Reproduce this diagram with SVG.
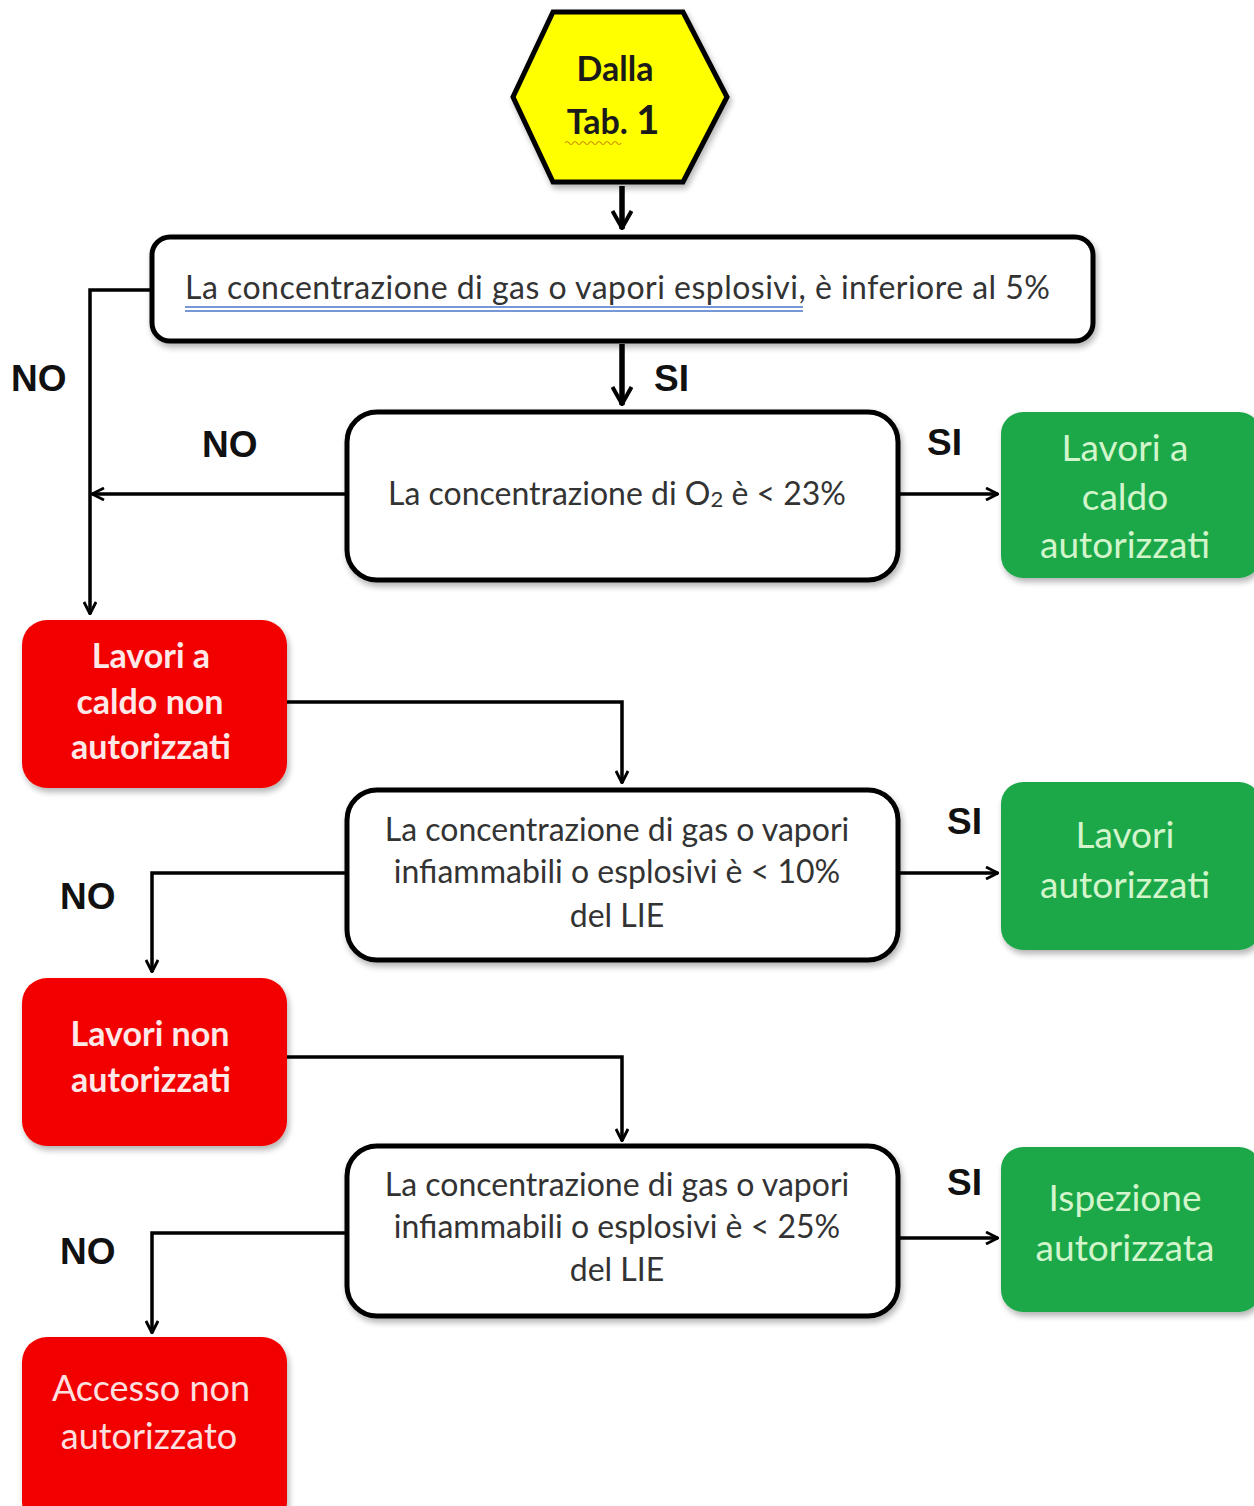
<svg xmlns="http://www.w3.org/2000/svg" width="1254" height="1506" viewBox="0 0 1254 1506">
<style>
.dec{fill:#fff;stroke:#000;stroke-width:5}
.ok{fill:#1DA84A}
.ko{fill:#F20000}
.t{font-family:Lato,"Liberation Sans",sans-serif;font-size:32px;fill:#333;text-anchor:middle}
.gt{font-family:Lato,"Liberation Sans",sans-serif;font-size:37px;fill:#D2F5CC;text-anchor:middle}
.rt{font-family:Lato,"Liberation Sans",sans-serif;font-size:34px;font-weight:bold;fill:#FFE8E8;text-anchor:middle}
.rt2{font-family:Lato,"Liberation Sans",sans-serif;font-size:36px;fill:#FFE0E0;text-anchor:middle}
.lbl{font-family:"Liberation Sans",Arial,sans-serif;font-size:37px;font-weight:bold;fill:#111}
.c{fill:none;stroke:#000;stroke-width:3.5}
.ct{fill:none;stroke:#000;stroke-width:5.5}
</style>
<defs>
<marker id="a" viewBox="0 0 14 14" refX="13" refY="7" markerWidth="14" markerHeight="14" markerUnits="userSpaceOnUse" orient="auto">
<path d="M1,1 L13,7 L1,13" fill="none" stroke="#000" stroke-width="2.8"/>
</marker>
<marker id="b" viewBox="0 0 20 22" refX="19" refY="11" markerWidth="20" markerHeight="22" markerUnits="userSpaceOnUse" orient="auto">
<path d="M1,1.5 L18,11 L1,20.5" fill="none" stroke="#000" stroke-width="4"/>
</marker>
<filter id="sh" x="-10%" y="-10%" width="125%" height="130%">
<feGaussianBlur in="SourceAlpha" stdDeviation="3"/>
<feOffset dx="2" dy="4" result="o"/>
<feComponentTransfer><feFuncA type="linear" slope="0.3"/></feComponentTransfer>
<feMerge><feMergeNode/><feMergeNode in="SourceGraphic"/></feMerge>
</filter>
</defs>

<g id="connectors">
<line class="ct" x1="622" y1="186" x2="622" y2="229" marker-end="url(#b)"/>
<line class="ct" x1="622" y1="344" x2="622" y2="405" marker-end="url(#b)"/>
<polyline class="c" points="152,290 90,290 90,614" marker-end="url(#a)"/>
<line class="c" x1="347" y1="494" x2="92" y2="494" marker-end="url(#a)"/>
<line class="c" x1="898" y1="494" x2="998" y2="494" marker-end="url(#a)"/>
<polyline class="c" points="287,702 622,702 622,783" marker-end="url(#a)"/>
<polyline class="c" points="347,873 152,873 152,972" marker-end="url(#a)"/>
<line class="c" x1="898" y1="873" x2="998" y2="873" marker-end="url(#a)"/>
<polyline class="c" points="287,1057 622,1057 622,1141" marker-end="url(#a)"/>
<polyline class="c" points="347,1233 152,1233 152,1333" marker-end="url(#a)"/>
<line class="c" x1="898" y1="1238" x2="998" y2="1238" marker-end="url(#a)"/>
<text class="lbl" x="11" y="391">NO</text>
<text class="lbl" x="654" y="391">SI</text>
<text class="lbl" x="202" y="457">NO</text>
<text class="lbl" x="927" y="455">SI</text>
<text class="lbl" x="60" y="909">NO</text>
<text class="lbl" x="947" y="834">SI</text>
<text class="lbl" x="60" y="1264">NO</text>
<text class="lbl" x="947" y="1195">SI</text>
</g>

<g id="start">
<polygon points="553,12 683,12 727,97 683,182 553,182 513,97" fill="#FFFF00" stroke="#000" stroke-width="5" filter="url(#sh)"/>
<text x="615" y="81" style="font-family:Lato,'Liberation Sans',sans-serif;font-size:34px;font-weight:bold;fill:#1a1a1a;text-anchor:middle">Dalla</text>
<text x="613" y="134" style="font-family:Lato,'Liberation Sans',sans-serif;font-size:34px;font-weight:bold;fill:#1a1a1a;text-anchor:middle">Tab. <tspan font-size="40">1</tspan></text>
<path d="M565,143 q2,-3 4,0 t4,0 t4,0 t4,0 t4,0 t4,0 t4,0 t4,0 t4,0 t4,0 t4,0 t4,0 t4,0 t4,0" fill="none" stroke="#D08A00" stroke-width="1.2"/>
</g>

<g id="q1">
<rect class="dec" x="152" y="237" width="941" height="104" rx="18" filter="url(#sh)"/>
<text class="t" x="185" y="299" style="text-anchor:start" textLength="865" lengthAdjust="spacing">La concentrazione  di gas o vapori esplosivi, è inferiore al 5%</text>
<line x1="185" y1="307" x2="803" y2="307" stroke="#4A74C9" stroke-width="1.6"/>
<line x1="185" y1="311" x2="803" y2="311" stroke="#4A74C9" stroke-width="1.6"/>
</g>

<g id="q2">
<rect class="dec" x="347" y="412" width="551" height="168" rx="30" filter="url(#sh)"/>
<text class="t" x="617" y="505">La concentrazione  di O<tspan font-size="22" dy="2">2</tspan><tspan dy="-2"> è &lt; 23%</tspan></text>
</g>

<g id="ok1">
<rect class="ok" x="1001" y="412" width="260" height="166" rx="22" filter="url(#sh)"/>
<text class="gt" x="1125" y="461">Lavori a</text>
<text class="gt" x="1125" y="510">caldo</text>
<text class="gt" x="1125" y="558">autorizzati</text>
</g>

<g id="ko1">
<rect class="ko" x="22" y="620" width="265" height="168" rx="25" filter="url(#sh)"/>
<text class="rt" x="151" y="668">Lavori a</text>
<text class="rt" x="150" y="714">caldo non</text>
<text class="rt" x="151" y="759">autorizzati</text>
</g>

<g id="q3">
<rect class="dec" x="347" y="790" width="551" height="170" rx="30" filter="url(#sh)"/>
<text class="t" x="617" y="841">La concentrazione  di gas o vapori</text>
<text class="t" x="617" y="883">infiammabili o esplosivi  è &lt; 10%</text>
<text class="t" x="617" y="927">del LIE</text>
</g>

<g id="ok2">
<rect class="ok" x="1001" y="782" width="260" height="168" rx="22" filter="url(#sh)"/>
<text class="gt" x="1125" y="848">Lavori</text>
<text class="gt" x="1125" y="898">autorizzati</text>
</g>

<g id="ko2">
<rect class="ko" x="22" y="978" width="265" height="168" rx="25" filter="url(#sh)"/>
<text class="rt" x="150" y="1046">Lavori non</text>
<text class="rt" x="151" y="1092">autorizzati</text>
</g>

<g id="q4">
<rect class="dec" x="347" y="1146" width="551" height="170" rx="30" filter="url(#sh)"/>
<text class="t" x="617" y="1196">La concentrazione  di gas o vapori</text>
<text class="t" x="617" y="1238">infiammabili o esplosivi  è &lt; 25%</text>
<text class="t" x="617" y="1281">del LIE</text>
</g>

<g id="ok3">
<rect class="ok" x="1001" y="1147" width="260" height="165" rx="22" filter="url(#sh)"/>
<text class="gt" x="1125" y="1211">Ispezione</text>
<text class="gt" x="1125" y="1261">autorizzata</text>
</g>

<g id="ko3">
<rect class="ko" x="22" y="1337" width="265" height="190" rx="25" filter="url(#sh)"/>
<text class="rt2" x="151" y="1401">Accesso non</text>
<text class="rt2" x="149" y="1449">autorizzato</text>
</g>
</svg>
